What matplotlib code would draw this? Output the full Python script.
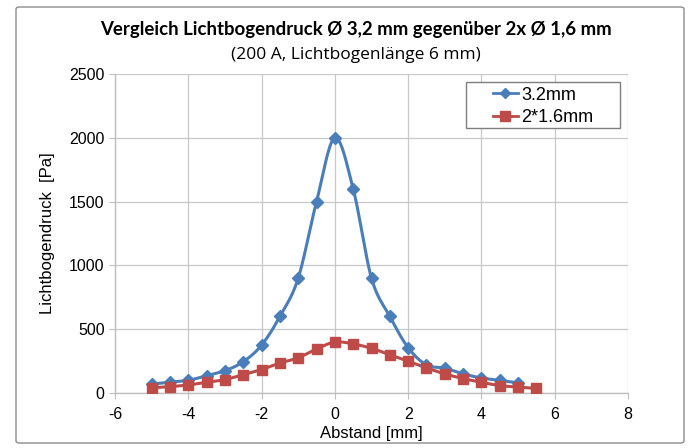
import numpy as np
import matplotlib
matplotlib.use("Agg")
import matplotlib.pyplot as plt
from matplotlib.patches import FancyBboxPatch, Rectangle

plt.rcParams["axes.unicode_minus"] = False

# Data
x_blue = [-5, -4.5, -4, -3.5, -3, -2.5, -2, -1.5, -1, -0.5, 0, 0.5, 1, 1.5, 2, 2.5, 3, 3.5, 4, 4.5, 5]
y_blue = [70, 85, 100, 135, 175, 245, 375, 600, 900, 1500, 2000, 1600, 900, 600, 355, 220, 195, 150, 118, 99, 79]
x_red = [-5, -4.5, -4, -3.5, -3, -2.5, -2, -1.5, -1, -0.5, 0, 0.5, 1, 1.5, 2, 2.5, 3, 3.5, 4, 4.5, 5, 5.5]
y_red = [40, 50, 63, 84, 105, 144, 184, 235, 276, 345, 399, 385, 350, 300, 249, 197, 150, 113, 84, 58, 47, 36]
series_names = ["3.2mm", "2*1.6mm"]
title = "Vergleich Lichtbogendruck Ø 3,2 mm gegenüber 2x Ø 1,6 mm"
subtitle = "(200 A, Lichtbogenlänge 6 mm)"
xlabel = "Abstand [mm]"
ylabel = "Lichtbogendruck  [Pa]"

BLUE = "#4A7EBB"
RED = "#BE4B48"


def smooth(xs, ys, n=20, tension=0.5):
    # Cardinal spline through the points, like Excel's smoothed line
    xs = np.asarray(xs, float)
    ys = np.asarray(ys, float)
    P = np.column_stack([xs, ys])
    out = []
    for i in range(len(P) - 1):
        p0 = P[i - 1] if i > 0 else P[i]
        p1 = P[i]
        p2 = P[i + 1]
        p3 = P[i + 2] if i + 2 < len(P) else P[i + 1]
        m1 = tension * (p2 - p0)
        m2 = tension * (p3 - p1)
        t = np.linspace(0, 1, n, endpoint=(i == len(P) - 2))[:, None]
        h00 = 2 * t**3 - 3 * t**2 + 1
        h10 = t**3 - 2 * t**2 + t
        h01 = -2 * t**3 + 3 * t**2
        h11 = t**3 - t**2
        out.append(h00 * p1 + h10 * m1 + h01 * p2 + h11 * m2)
    out = np.vstack(out)
    return out[:, 0], out[:, 1]


W, H = 693, 448
fig = plt.figure(figsize=(W / 100, H / 100), dpi=100)

# outer chart border
border = FancyBboxPatch((16 / W, 1 - 443 / H), (684 - 16) / W, (443 - 7) / H,
                        boxstyle="round,pad=0,rounding_size=0.005",
                        transform=fig.transFigure, facecolor="white",
                        edgecolor="#8C8C8C", linewidth=1.0, zorder=-10)
fig.add_artist(border)

left, right, top, bottom = 115, 628, 74, 393
ax = fig.add_axes([left / W, 1 - bottom / H, (right - left) / W, (bottom - top) / H])
ax.set_zorder(2)
ax.set_facecolor("none")

sx, sy = smooth(x_blue, y_blue)
ax.plot(sx, sy, color=BLUE, lw=2.2, zorder=3)
ax.plot(x_blue, y_blue, ls="none", marker="D", ms=5.8, color=BLUE, zorder=4)
rx, ry = smooth(x_red, y_red)
ax.plot(rx, ry, color=RED, lw=2.2, zorder=3)
ax.plot(x_red, y_red, ls="none", marker="s", ms=7, color=RED, zorder=4)

# legend proxies
lb, = ax.plot([], [], color=BLUE, lw=2.0, marker="D", ms=5, label=series_names[0])
lr, = ax.plot([], [], color=RED, lw=2.0, marker="s", ms=6.5, label=series_names[1])

ax.set_xlim(-6, 8)
ax.set_ylim(0, 2500)
ax.set_xticks(np.arange(-6, 9, 2))
ax.set_yticks(np.arange(0, 2501, 500))
ax.grid(True, color="#C8C8C8", lw=0.9)
ax.set_axisbelow(True)
for s in ["top", "right"]:
    ax.spines[s].set_visible(False)
for s in ["left", "bottom"]:
    ax.spines[s].set_color("#BFBFBF")
    ax.spines[s].set_linewidth(1.0)
ax.tick_params(axis="both", colors="#BFBFBF", labelcolor="black", length=4,
               labelsize=11.5)
ax.tick_params(axis="x", pad=6)
for lab in ax.get_xticklabels() + ax.get_yticklabels():
    lab.set_family("Liberation Sans")

ax.set_xlabel(xlabel, fontsize=12, family="Liberation Sans", labelpad=3)
ax.set_ylabel(ylabel, fontsize=12, family="Liberation Sans", labelpad=10)

# legend frame drawn separately, entries placed inside
frame = Rectangle((466 / W, 1 - 128 / H), (620 - 466) / W, (128 - 82) / H,
                  transform=fig.transFigure, facecolor="white",
                  edgecolor="#7F7F7F", linewidth=1.0, zorder=5)
fig.add_artist(frame)
leg = fig.legend(handles=[lb, lr], loc="upper left",
                 bbox_to_anchor=(489 / W, 1 - 83 / H), frameon=False,
                 prop={"family": "Liberation Sans", "size": 13},
                 handlelength=1.4, handletextpad=0.2, borderpad=0.2,
                 labelspacing=0.3, borderaxespad=0)
leg.set_zorder(6)

fig.text(356 / W, 1 - 30 / H, title, ha="center", va="center",
         fontsize=13.4, fontweight="bold", family="Lato")
fig.text(356 / W, 1 - 55 / H, subtitle, ha="center", va="center",
         fontsize=12.5, family="Open Sans")

fig.savefig("out.png", dpi=100)
